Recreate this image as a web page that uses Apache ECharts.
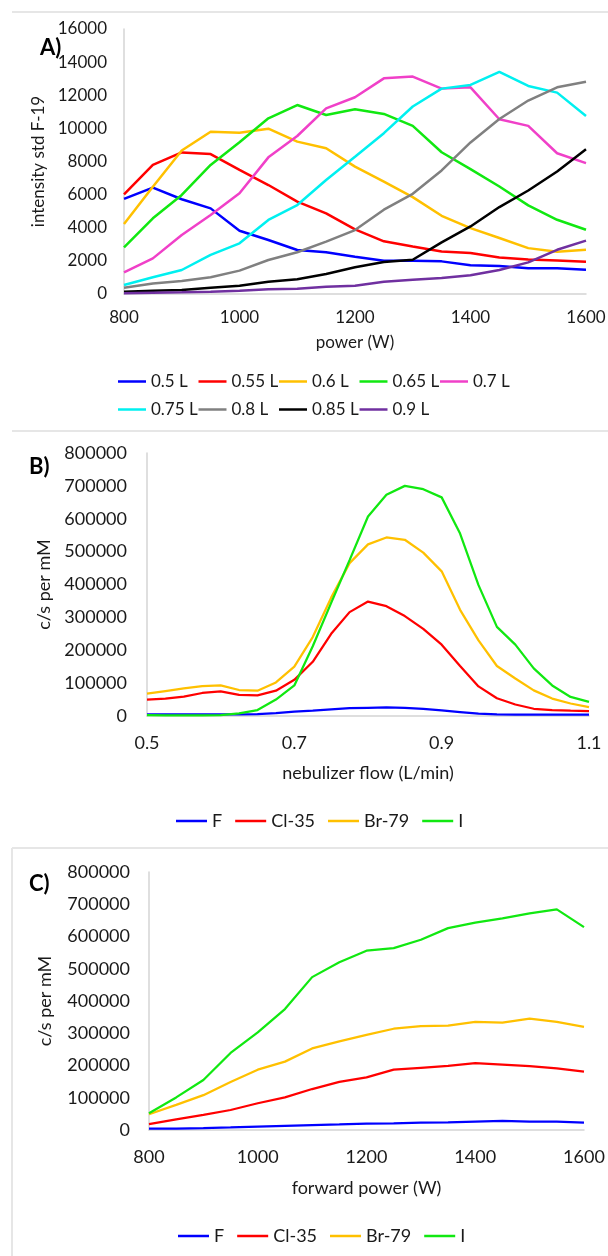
<!DOCTYPE html>
<html>
<head>
<meta charset="utf-8">
<script src="https://cdn.jsdelivr.net/npm/echarts@6/dist/echarts.min.js"></script>
<style>
    html, body { margin: 0; padding: 0; background: #fff; }
    #main { width: 608px; height: 1256px; }
</style>
</head>
<body>
<div id="main"></div>
<script>
// panel A: intensity vs power for each nebulizer flow
var aPower = [800, 850, 900, 950, 1000, 1050, 1100, 1150, 1200, 1250, 1300, 1350, 1400, 1450, 1500, 1550, 1600];
var aNames = ['0.5 L', '0.55 L', '0.6 L', '0.65 L', '0.7 L', '0.75 L', '0.8 L', '0.85 L', '0.9 L'];
var a05 = [5740, 6420, 5720, 5170, 3820, 3260, 2660, 2520, 2250, 2010, 2010, 1970, 1730, 1690, 1550, 1550, 1470];
var a055 = [6020, 7790, 8550, 8450, 7490, 6580, 5580, 4870, 3900, 3180, 2870, 2570, 2470, 2210, 2090, 2030, 1950];
var a06 = [4230, 6480, 8660, 9800, 9740, 9980, 9200, 8800, 7690, 6790, 5850, 4720, 3980, 3380, 2770, 2550, 2670];
var a065 = [2820, 4570, 5980, 7790, 9160, 10610, 11410, 10810, 11150, 10870, 10150, 8560, 7540, 6490, 5350, 4480, 3880];
var a07 = [1310, 2150, 3560, 4770, 6080, 8250, 9540, 11210, 11880, 13020, 13130, 12400, 12480, 10550, 10150, 8500, 7900];
var a075 = [540, 1010, 1450, 2360, 3060, 4470, 5370, 6880, 8290, 9710, 11320, 12400, 12620, 13410, 12560, 12160, 10750];
var a08 = [380, 640, 790, 1010, 1410, 2050, 2520, 3160, 3860, 5090, 6050, 7460, 9150, 10570, 11680, 12480, 12820];
var a085 = [140, 200, 240, 380, 500, 740, 890, 1210, 1610, 1930, 2070, 3120, 4080, 5250, 6250, 7400, 8740];
var a09 = [40, 80, 100, 140, 200, 280, 320, 440, 500, 740, 860, 960, 1130, 1450, 1910, 2670, 3220];
var aColors = ['#0000ff', '#ff0000', '#ffc000', '#11e811', '#f040c8', '#00f0f0', '#808080', '#000000', '#7030a0'];

// panel B: c/s per mM vs nebulizer flow
var bFlow = [0.5, 0.525, 0.55, 0.575, 0.6, 0.625, 0.65, 0.675, 0.7, 0.725, 0.75, 0.775, 0.8,
    0.825, 0.85, 0.875, 0.9, 0.925, 0.95, 0.975, 1.0, 1.025, 1.05, 1.075, 1.1];
var bF = [5000, 5000, 5000, 5000, 5000, 5000, 6000, 9000, 13000, 16000, 20000, 24000, 25000,
    26000, 25000, 22000, 17000, 12000, 7000, 5000, 4000, 4000, 4000, 4000, 4000];
var bCl = [50000, 53000, 59000, 70000, 75000, 64000, 63000, 77000, 110000, 165000, 250000, 316000, 348000,
    334000, 304000, 265000, 217000, 152000, 90000, 54000, 35000, 22000, 18000, 16000, 15000];
var bBr = [68000, 76000, 84000, 91000, 93000, 79000, 77000, 102000, 150000, 240000, 360000, 465000, 522000,
    543000, 536000, 497000, 440000, 323000, 230000, 152000, 114000, 78000, 53000, 38000, 27000];
var bI = [3000, 2000, 2000, 2000, 3000, 8000, 18000, 50000, 93000, 212000, 344000, 474000, 607000,
    673000, 700000, 690000, 665000, 555000, 398000, 271000, 217000, 145000, 93000, 58000, 43000];

// panel C: c/s per mM vs forward power
var cPower = [800, 850, 900, 950, 1000, 1050, 1100, 1150, 1200, 1250, 1300, 1350, 1400, 1450, 1500, 1550, 1600];
var cF = [4000, 4500, 6000, 8000, 10500, 13000, 15500, 17500, 20000, 20500, 23000, 23500, 26000, 28500, 26000, 26000, 23000];
var cCl = [18000, 33000, 47000, 62000, 83000, 101000, 127000, 149000, 163000, 187000, 193000, 199000, 207000, 203000, 198000, 191000, 181000];
var cBr = [49000, 78000, 108000, 149000, 187000, 212000, 253000, 275000, 295000, 314000, 322000, 324000, 335000, 333000, 345000, 335000, 320000];
var cI = [52000, 101000, 155000, 239000, 303000, 375000, 474000, 520000, 556000, 564000, 590000, 626000, 643000, 656000, 672000, 684000, 629000];

var elNames = ['F', 'Cl-35', 'Br-79', 'I'];
var elColors = ['#0000ff', '#ff0000', '#ffc000', '#11e811'];

var font = 'Lato';
var txt = '#1a1a1a';
var axisGray = '#d4d4d4';

function pairs(xs, ys) {
    var out = [];
    for (var i = 0; i < xs.length; i++) {
        out.push([xs[i], ys[i]]);
    }
    return out;
}

function plain(v) { return String(v); }

var chart = echarts.init(document.getElementById('main'));

var series = [];
var aData = [a05, a055, a06, a065, a07, a075, a08, a085, a09];
aData.forEach(function (ys, i) {
    series.push({
        name: aNames[i], type: 'line', xAxisIndex: 0, yAxisIndex: 0,
        data: pairs(aPower, ys), showSymbol: false, silent: true,
        lineStyle: { color: aColors[i], width: 2.5 }, itemStyle: { color: aColors[i] }
    });
});
[bF, bCl, bBr, bI].forEach(function (ys, i) {
    series.push({
        name: elNames[i], type: 'line', xAxisIndex: 1, yAxisIndex: 1,
        data: pairs(bFlow, ys), showSymbol: false, silent: true,
        lineStyle: { color: elColors[i], width: 2.25 }, itemStyle: { color: elColors[i] }
    });
});
[cF, cCl, cBr, cI].forEach(function (ys, i) {
    series.push({
        name: elNames[i], type: 'line', xAxisIndex: 2, yAxisIndex: 2,
        data: pairs(cPower, ys), showSymbol: false, silent: true,
        lineStyle: { color: elColors[i], width: 2.25 }, itemStyle: { color: elColors[i] }
    });
});

function xAx(grid, min, max, interval, name, size, margin, gap) {
    return {
        type: 'value', gridIndex: grid, min: min, max: max, interval: interval,
        name: name, nameLocation: 'middle', nameGap: gap,
        nameTextStyle: { fontFamily: font, fontSize: size, color: txt },
        axisLine: { show: true, lineStyle: { color: axisGray, width: 1.5 } },
        axisTick: { show: false }, splitLine: { show: false },
        axisLabel: { fontFamily: font, fontSize: size, color: txt, margin: margin, formatter: plain }
    };
}

function yAx(grid, max, interval, name, size, margin, gap) {
    return {
        type: 'value', gridIndex: grid, min: 0, max: max, interval: interval,
        name: name, nameLocation: 'middle', nameGap: gap,
        nameTextStyle: { fontFamily: font, fontSize: size, color: txt },
        axisLine: { show: true, lineStyle: { color: axisGray, width: 1.5 } },
        axisTick: { show: false }, splitLine: { show: false },
        axisLabel: { fontFamily: font, fontSize: size, color: txt, margin: margin, formatter: plain }
    };
}

function legendOf(names, left, top, size, iw, gap) {
    return {
        data: names, left: left, top: top, orient: 'horizontal',
        icon: 'rect', itemWidth: iw, itemHeight: 2.5, itemGap: gap,
        padding: 0, selectedMode: false,
        textStyle: { fontFamily: font, fontSize: size, color: txt }
    };
}

// panel A legend sits in fixed columns, 5 on the first row, 4 on the second
var legends = [];
aNames.forEach(function (n, i) {
    var row = i < 5 ? 0 : 1;
    var col = i < 5 ? i : i - 5;
    legends.push(legendOf([n], 118 + col * 80.5, 373 + row * 28, 17, 28, 0));
});
legends.push(legendOf(elNames, 176, 812, 18, 31, 13));
legends.push(legendOf(elNames, 178, 1227, 18, 31, 13));

var option = {
    animation: false,
    backgroundColor: '#fff',
    grid: [
        { left: 124, top: 29, width: 462, height: 265, outerBoundsMode: 'none' },
        { left: 147, top: 453, width: 442, height: 263, outerBoundsMode: 'none' },
        { left: 149, top: 872, width: 435, height: 258, outerBoundsMode: 'none' }
    ],
    xAxis: [
        xAx(0, 800, 1600, 200, 'power (W)', 17, 15, 40),
        xAx(1, 0.5, 1.1, 0.2, 'nebulizer flow (L/min)', 18, 18, 48),
        xAx(2, 800, 1600, 200, 'forward power (W)', 18, 18, 49)
    ],
    yAxis: [
        yAx(0, 16000, 2000, 'intensity std F-19', 17, 17, 73),
        yAx(1, 800000, 100000, 'c/s per mM', 18, 20, 93),
        yAx(2, 800000, 100000, 'c/s per mM', 18, 19, 95)
    ],
    legend: legends,
    graphic: [
        { type: 'line', shape: { x1: 12, y1: 12, x2: 608, y2: 12 }, style: { stroke: '#e6e6e6', lineWidth: 2 }, silent: true },
        { type: 'line', shape: { x1: 12, y1: 431, x2: 608, y2: 431 }, style: { stroke: '#e6e6e6', lineWidth: 2 }, silent: true },
        { type: 'line', shape: { x1: 12, y1: 848, x2: 608, y2: 848 }, style: { stroke: '#e6e6e6', lineWidth: 2 }, silent: true },
        { type: 'line', shape: { x1: 12, y1: 848, x2: 12, y2: 1256 }, style: { stroke: '#e6e6e6', lineWidth: 2 }, silent: true },
        { type: 'text', left: 40, top: 37, style: { text: 'A)', fontFamily: font, fontSize: 22, fontWeight: 'bold', fill: '#000' } },
        { type: 'text', left: 29, top: 456, style: { text: 'B)', fontFamily: font, fontSize: 22, fontWeight: 'bold', fill: '#000' } },
        { type: 'text', left: 29, top: 873, style: { text: 'C)', fontFamily: font, fontSize: 22, fontWeight: 'bold', fill: '#000' } }
    ],
    series: series
};

chart.setOption(option);
</script>
</body>
</html>
